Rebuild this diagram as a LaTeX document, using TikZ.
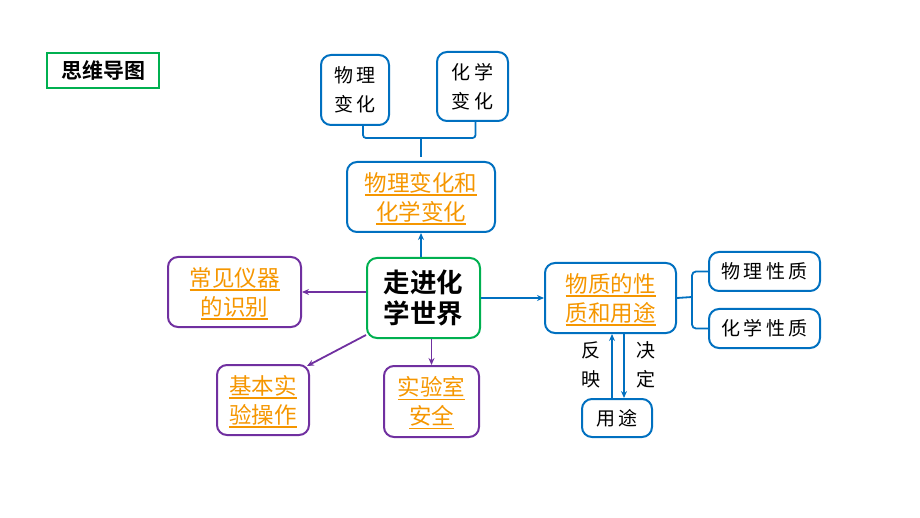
\documentclass[tikz,border=0pt]{standalone}
\usepackage{fontspec}
\setmainfont{Noto Sans CJK SC}[BoldFont={* Bold}]
\newfontfamily\spaced{Noto Sans CJK SC}[LetterSpace=18]
\usetikzlibrary{positioning,arrows.meta}
\definecolor{mapblue}{RGB}{0,112,192}
\definecolor{mapgreen}{RGB}{0,176,80}
\definecolor{mappurple}{RGB}{112,48,160}
\definecolor{maporange}{RGB}{245,150,0}
\newcommand\ul[1]{\leavevmode\vtop{\hbox{#1}\kern1.5pt\hrule height 1.2pt\kern-2.7pt}}
\tikzset{
  box/.style={draw, rounded corners=10pt, line width=2pt, align=center, inner sep=0pt},
  bluebox/.style={box, draw=mapblue},
  purplebox/.style={box, draw=mappurple},
  link/.style={font=\color{maporange}\fontsize{22.5}{29}\selectfont},
  plain/.style={align=center, font=\spaced\fontsize{19}{29}\selectfont},
  arr/.style={-{Stealth[length=7pt,width=6pt]}, line width=1.8pt},
}
\begin{document}
\begin{tikzpicture}[x=1pt,y=-1pt]
  \useasboundingbox (0,0) rectangle (920,518);
  % title
  \node[draw=mapgreen, line width=1.5pt, minimum width=112pt, minimum height=35pt,
    font=\bfseries\fontsize{21}{22}\selectfont] (title) at (103,70.5) {思维导图};
  % centre
  \node[box, draw=mapgreen, minimum width=113pt, minimum height=80pt,
    font=\bfseries\fontsize{26.5}{31}\selectfont] (world) at (423.5,298) {走进化\\学世界};
  % upper branch
  \node[bluebox, minimum width=148pt, minimum height=70pt, link] (change) at (421,197)
    {\ul{物理变化和}\\\ul{化学变化}};
  \node[bluebox, minimum width=68pt, minimum height=70pt, plain] (phychange) at (355,90)
    {物理\\变化};
  \node[bluebox, minimum width=71pt, minimum height=69pt, plain] (chemchange) at (472.5,86.5)
    {化学\\变化};
  % left and lower branches
  \node[purplebox, minimum width=133pt, minimum height=70pt, link] (instr) at (234.5,292)
    {\ul{常见仪器}\\\ul{的识别}};
  \node[purplebox, minimum width=92pt, minimum height=70pt, link] (basic) at (263,400)
    {\ul{基本实}\\\ul{验操作}};
  \node[purplebox, minimum width=95pt, minimum height=71pt, link] (safety) at (431.5,401.5)
    {\ul{实验室}\\\ul{安全}};
  % right branch
  \node[bluebox, minimum width=131pt, minimum height=70pt, link] (matter) at (610.5,298)
    {\ul{物质的性}\\\ul{质和用途}};
  \node[bluebox, minimum width=111pt, minimum height=39pt, plain] (physprop) at (764.5,271.5)
    {物理性质};
  \node[bluebox, minimum width=111pt, minimum height=39pt, plain] (chemprop) at (764.5,328.5)
    {化学性质};
  \node[bluebox, minimum width=70pt, minimum height=38pt, plain] (use) at (617,418)
    {用途};
  \node[plain] (reflect) at (591,365) {反\\映};
  \node[plain] (decide) at (646,365) {决\\定};

  \coordinate (topbrk) at (421,138);
  \coordinate (rightbrk) at (692,297);
  \draw[mapblue, line width=1.8pt, rounded corners=3pt]
    ([xshift=8pt]phychange.south) |- (topbrk) -| ([xshift=3pt]chemchange.south)
    (topbrk) -- ([yshift=4pt]change.north);
  \draw[mapblue, line width=1.8pt, rounded corners=4pt]
    (physprop.west) -| (rightbrk) |- (chemprop.west)
    (rightbrk) -- (matter.east);

  \draw[arr, mapblue] (change.south |- world.north) -- (change.south);
  \draw[arr, mapblue] (world.east |- matter.west) -- (matter.west);
  \draw[arr, mappurple] (world.west |- instr.east) -- (instr.east);
  \draw[arr, mappurple] ([yshift=4pt]world.south west) -- ([shift={(-3pt,-2pt)}]basic.north east);
  \draw[arr, mappurple] (world.south -| safety.north) -- (safety.north);
  \draw[arr, mapblue] ([xshift=-5pt]use.north) -- ([xshift=-5pt]use.north |- matter.south);
  \draw[arr, mapblue] ([xshift=7pt]use.north |- matter.south) -- ([xshift=7pt]use.north);
\end{tikzpicture}
\end{document}
